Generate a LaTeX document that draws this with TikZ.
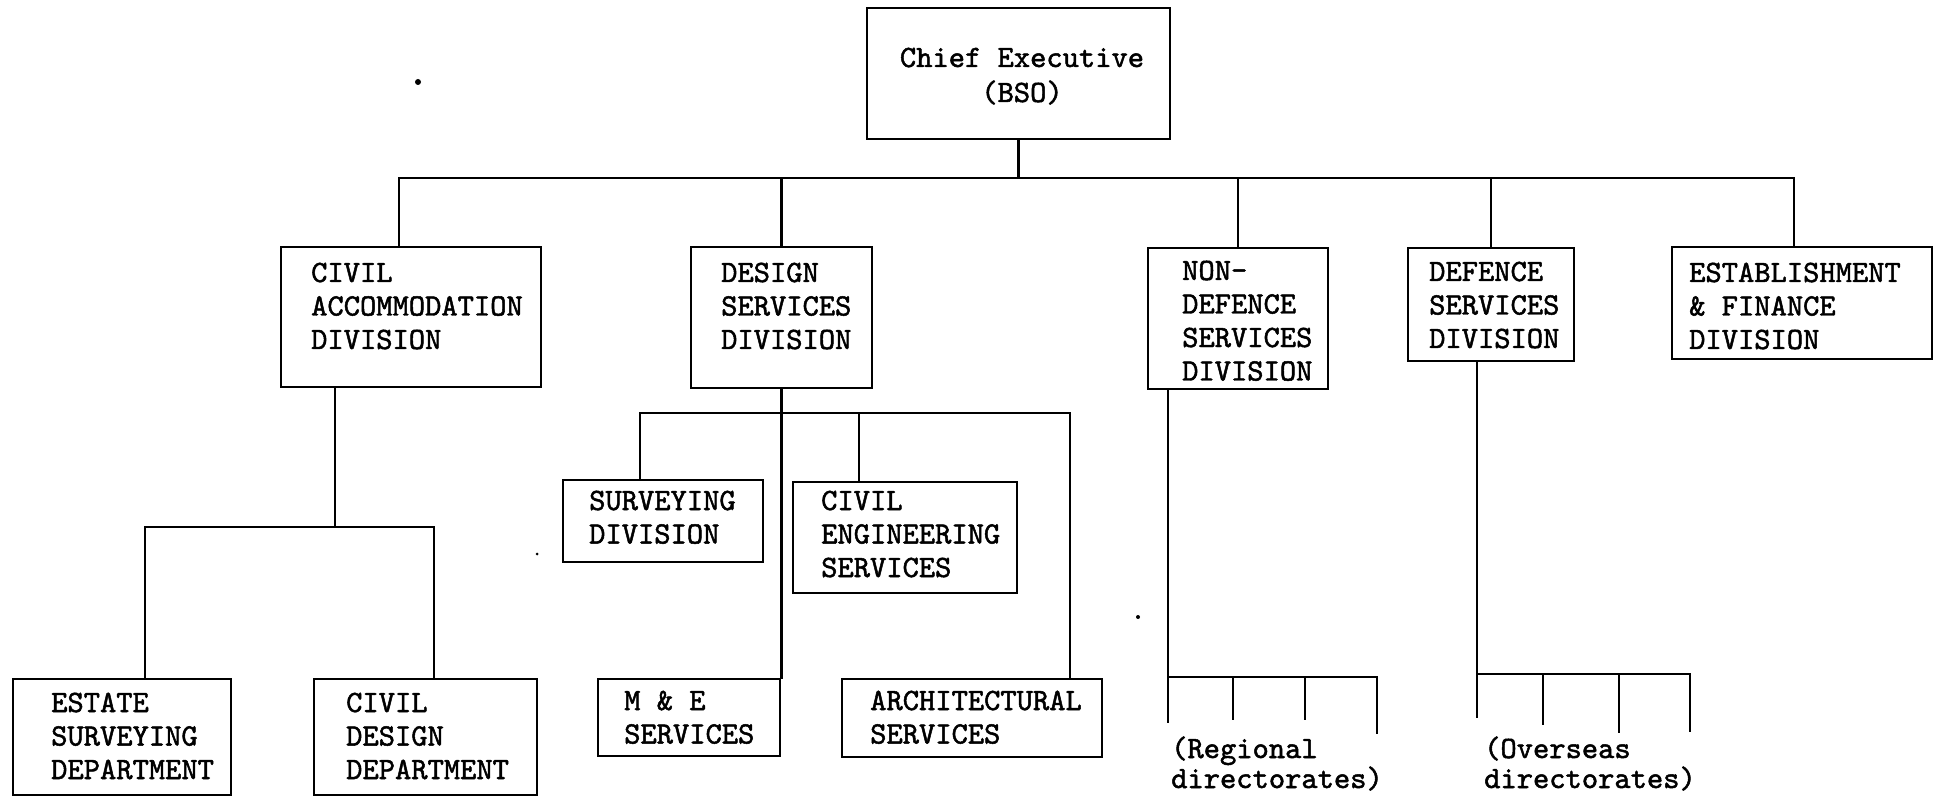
\documentclass[tikz,border=0pt]{standalone}
\usepackage{fontspec}
\newfontfamily\twfont{lmmono10-regular}[Extension=.otf,FakeBold=1.6]
\begin{document}
\newcommand\lns[1]{\begin{tabular}[t]{@{}l@{}}#1\end{tabular}}
\newcommand\obox[5]{\node[orgbox,minimum width={#4-#2},minimum height={#5-#3}] (#1) at ({(#2+#4)/2},{(#3+#5)/2}) {};}
\begin{tikzpicture}[x=1pt,y=-1pt,
  orgbox/.style={draw,line width=2.8pt,inner sep=0pt,rectangle},
  lbl/.style={anchor=base west,inner sep=0pt,font=\twfont\fontsize{31}{33.5}\selectfont},
  conn/.style={line width=2.8pt,line cap=rect},
  tick/.style={line width=2.8pt}]
\useasboundingbox (0,0) rectangle (1942,799);
% boxes
\obox{chief}{867}{8}{1170}{139}
\obox{cad}{281}{247}{541}{387}
\obox{dsd}{691}{247}{872}{388}
\obox{nds}{1148}{248}{1328}{389}
\obox{def}{1408}{248}{1574}{361}
\obox{est}{1672}{247}{1932}{359}
\obox{esd}{13}{679}{231}{795}
\obox{cdd}{314}{679}{537}{795}
\obox{svd}{563}{480}{763}{562}
\obox{ces}{793}{482}{1017}{593}
\obox{me}{598}{679}{780}{756}
\obox{arc}{842}{679}{1102}{757}
% texts
\node[anchor=base,inner sep=0pt,font=\twfont\fontsize{31}{33.5}\selectfont] (chieft) at (1022,67) {\begin{tabular}[t]{@{}c@{}}Chief Executive\\[1.5pt](BSO)\end{tabular}};
\node[lbl] (cadt) at (311,282) {\lns{CIVIL\\ACCOMMODATION\\DIVISION}};
\node[lbl] (dsdt) at (721,282) {\lns{DESIGN\\SERVICES\\DIVISION}};
\node[lbl] (ndst) at (1182,280) {\lns{NON-\\DEFENCE\\SERVICES\\DIVISION}};
\node[lbl] (deft) at (1429,281) {\lns{DEFENCE\\SERVICES\\DIVISION}};
\node[lbl] (estt) at (1689,282) {\lns{ESTABLISHMENT\\\& FINANCE\\DIVISION}};
\node[lbl] (esdt) at (51,712) {\lns{ESTATE\\SURVEYING\\DEPARTMENT}};
\node[lbl] (cddt) at (346,712) {\lns{CIVIL\\DESIGN\\DEPARTMENT}};
\node[lbl] (svdt) at (589,510) {\lns{SURVEYING\\DIVISION}};
\node[lbl] (cest) at (821,510) {\lns{CIVIL\\ENGINEERING\\SERVICES}};
\node[lbl] (met) at (624,710) {\lns{M \& E\\SERVICES}};
\node[lbl] (arct) at (870,710) {\lns{ARCHITECTURAL\\SERVICES}};
\node[lbl] (regt) at (1171,758) {\lns{(Regional\\[-3.5pt]directorates)}};
\node[lbl] (ovst) at (1484,758) {\lns{(Overseas\\[-3.5pt]directorates)}};
% top level
\coordinate (busL) at (399,178);
\coordinate (busR) at (1794,178);
\draw[conn] (chief.south) -- (chief.south |- busL);
\draw[conn] (cad.north -| busL) -- (busL) -- (busR) -- (est.north -| busR);
\draw[conn] (dsd.north) -- (dsd.north |- busL);
\draw[conn] (nds.north) -- (nds.north |- busL);
\draw[conn] (def.north) -- (def.north |- busL);
% civil accommodation
\coordinate (cadM) at (335,527);
\coordinate (cadL) at (145,527);
\coordinate (cadR) at (434,527);
\draw[conn] (cad.south -| cadM) -- (cadM);
\draw[conn] (esd.north -| cadL) -- (cadL) -- (cadR) -- (cdd.north -| cadR);
% design services
\coordinate (dsL) at (640,413);
\coordinate (dsR) at (1070,413);
\coordinate (dsCE) at (859,413);
\draw[conn] (dsd.south) -- (dsd.south |- dsL);
\draw[conn] (svd.north -| dsL) -- (dsL) -- (dsR) -- (arc.north -| dsR);
\draw[conn] (me.north east |- dsL) -- (me.north east);
\draw[conn] (dsCE) -- (ces.north -| dsCE);
% non-defence
\coordinate (ndL) at (1168,677);
\coordinate (ndR) at (1377,677);
\coordinate (nd0) at (1168,722);
\coordinate (nd1) at (1233,677);
\coordinate (nd1e) at (1233,720);
\coordinate (nd2) at (1305,677);
\coordinate (nd2e) at (1305,720);
\coordinate (nd3e) at (1377,733);
\draw[conn] (nds.south -| ndL) -- (nd0);
\draw[conn] (ndL) -- (ndR) -- (nd3e);
\draw[tick] (nd1) -- (nd1e);
\draw[tick] (nd2) -- (nd2e);
% defence
\coordinate (dfL) at (1477,674);
\coordinate (dfR) at (1690,674);
\coordinate (df0) at (1477,717);
\coordinate (df1) at (1543,674);
\coordinate (df1e) at (1543,725);
\coordinate (df2) at (1619,674);
\coordinate (df2e) at (1619,733);
\coordinate (df3e) at (1690,731);
\draw[conn] (def.south -| dfL) -- (df0);
\draw[conn] (dfL) -- (dfR) -- (df3e);
\draw[tick] (df1) -- (df1e);
\draw[tick] (df2) -- (df2e);
% specks
\fill (418,82) circle (3);
\fill (537,554) circle (1.5);
\fill (1138,617) circle (2);
\end{tikzpicture}
\end{document}
